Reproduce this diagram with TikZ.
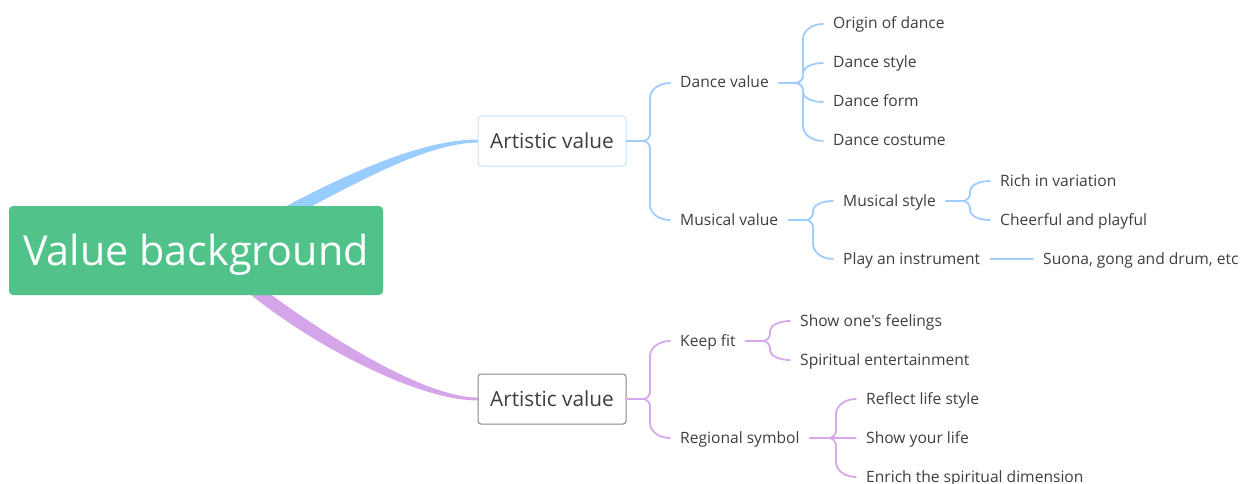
\documentclass[tikz,border=0pt]{standalone}
\usepackage{fontspec}
\setmainfont{Open Sans}[Ligatures=TeXOff]
\usetikzlibrary{calc}
\definecolor{rootgreen}{RGB}{82,194,139}
\definecolor{blueL}{RGB}{160,205,255}
\definecolor{blueB}{RGB}{153,204,255}
\definecolor{boxblue}{RGB}{200,225,255}
\definecolor{purpL}{RGB}{215,168,235}
\definecolor{purpB}{RGB}{212,165,232}
\definecolor{boxgray}{RGB}{135,135,135}
\definecolor{txtgray}{RGB}{62,62,62}
\tikzset{
  leaf/.style={anchor=west, inner xsep=10pt, inner ysep=2pt, text=txtgray,
    font=\fontsize{15.6}{18}\selectfont, text height=12pt, text depth=2pt},
  mainbox/.style={draw, rounded corners=3pt, line width=1pt, minimum width=148pt,
    minimum height=50pt, fill=white, text=txtgray, font=\fontsize{20.8}{24}\selectfont,
    text height=15pt, text depth=0pt},
  rootbox/.style={fill=rootgreen, rounded corners=4pt, minimum width=374pt,
    minimum height=89pt, text=white, font=\fontsize{41.3}{47}\selectfont,
    text height=29.5pt, text depth=0pt},
  brc/.style={to path={
    let \p1=(\tikztostart), \p2=(\tikztotarget),
        \n1={ifthenelse(\y2>\y1,1,-1)},
        \n2={min(abs(\y2-\y1)/2,7)},
        \n3={min(abs(\y2-\y1)/2,15)}
    in -- (\x2-20pt-\n2*1pt, \y1)
       .. controls (\x2-20pt-0.45*\n2*1pt, \y1) and (\x2-20pt, \y1+0.55*\n1*\n2*1pt) .. (\x2-20pt, \y1+\n1*\n2*1pt)
       -- (\x2-20pt, \y2-\n1*\n3*1pt)
       .. controls (\x2-20pt, \y2-0.45*\n1*\n3*1pt) and (\x2-11pt, \y2) .. (\p2)}},
  bline/.style={draw=blueL, line width=1.8pt, line cap=round},
  pline/.style={draw=purpL, line width=1.8pt, line cap=round}
}
\begin{document}
\begin{tikzpicture}[x=1pt, y=-1pt]
\useasboundingbox (0,0) rectangle (1242,484);
% tapered main branches
\fill[blueB] (229,238) .. controls (336,176) and (420,139.5) .. (478,139.5)
   -- (478,142.5) .. controls (422,143) and (344,189) .. (235,248) -- cycle;
\fill[purpB] (246,276) .. controls (311,326) and (420,397.6) .. (478,397.6)
   -- (478,400.4) .. controls (416,401) and (302,340) .. (238,284) -- cycle;
% root
\node[rootbox] (root) at (196,250.5) {Value background};
% level 1
\node[mainbox, draw=boxblue] (av1) at (552,141) {Artistic value};
\node[mainbox, draw=boxgray] (av2) at (552,399) {Artistic value};
% blue texts
\node[leaf] (dv) at (670,83) {Dance value};
\node[leaf] (mv) at (670,220) {Musical value};
\node[leaf] (o1) at (823,24) {Origin of dance};
\node[leaf] (o2) at (823,63) {Dance style};
\node[leaf] (o3) at (823,102) {Dance form};
\node[leaf] (o4) at (823,141) {Dance costume};
\node[leaf] (ms) at (833,201) {Musical style};
\node[leaf] (pi) at (833,259) {Play an instrument};
\node[leaf] (r1) at (990,181) {Rich in variation};
\node[leaf] (r2) at (990,220) {Cheerful and playful};
\node[leaf] (su) at (1033,259) {Suona, gong and drum, etc};
% purple texts
\node[leaf] (kf) at (670,341) {Keep fit};
\node[leaf] (rs) at (670,438) {Regional symbol};
\node[leaf] (k1) at (790,321) {Show one's feelings};
\node[leaf] (k2) at (790,360) {Spiritual entertainment};
\node[leaf] (s1) at (856,399) {Reflect life style};
\node[leaf] (s2) at (856,438) {Show your life};
\node[leaf] (s3) at (856,477) {Enrich the spiritual dimension};
% blue connectors
\draw[bline] (av1.east) to[brc] (dv.west);
\draw[bline] (av1.east) to[brc] (mv.west);
\draw[bline] (dv.east) to[brc] (o1.west);
\draw[bline] (dv.east) to[brc] (o2.west);
\draw[bline] (dv.east) to[brc] (o3.west);
\draw[bline] (dv.east) to[brc] (o4.west);
\draw[bline] (mv.east) to[brc] (ms.west);
\draw[bline] (mv.east) to[brc] (pi.west);
\draw[bline] (ms.east) to[brc] (r1.west);
\draw[bline] (ms.east) to[brc] (r2.west);
\draw[bline] (pi.east) -- (su.west);
% purple connectors
\draw[pline] (av2.east) to[brc] (kf.west);
\draw[pline] (av2.east) to[brc] (rs.west);
\draw[pline] (kf.east) to[brc] (k1.west);
\draw[pline] (kf.east) to[brc] (k2.west);
\draw[pline] (rs.east) to[brc] (s1.west);
\draw[pline] (rs.east) to[brc] (s2.west);
\draw[pline] (rs.east) to[brc] (s3.west);
\end{tikzpicture}
\end{document}
